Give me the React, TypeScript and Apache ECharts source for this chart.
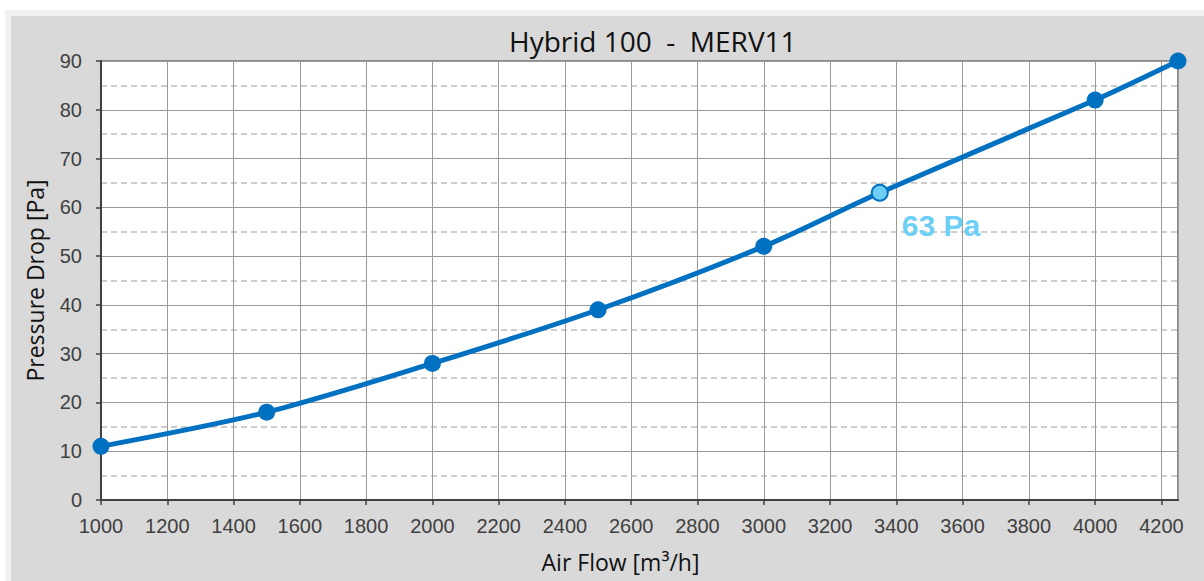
import React, { useEffect, useRef } from "react";
import * as echarts from "echarts";

const airFlow = [1000, 1500, 2000, 2500, 3000, 3350, 4000, 4250];
const pressure = [11, 18, 28, 39, 52, 63, 82, 90];
const highlightIndex = 5;
const highlightLabel = "63 Pa";
const titleText = "Hybrid 100  -  MERV11";
const xName = "Air Flow [m³/h]";
const yName = "Pressure Drop [Pa]";

export default function App() {
  const ref = useRef<HTMLDivElement>(null);
  useEffect(() => {
    if (!ref.current) return;
    const chart = echarts.init(ref.current, undefined, { renderer: "svg" });
    const data = airFlow.map((x, i) => {
      if (i === highlightIndex) {
        return {
          value: [x, pressure[i]],
          itemStyle: { color: "#6dcff6", borderColor: "#0070c0", borderWidth: 2 },
          symbolSize: 16,
          label: {
            show: true,
            formatter: highlightLabel,
            position: "right",
            distance: 13,
            offset: [0, 33],
            color: "#6dcff6",
            fontSize: 30,
            fontWeight: "bold",
            fontFamily: "Liberation Sans, Arial, sans-serif",
          },
        };
      }
      return { value: [x, pressure[i]] };
    });
    chart.setOption({
      animation: false,
      backgroundColor: "transparent",
      title: {
        text: titleText,
        left: 504,
        top: 22,
        textStyle: {
          fontFamily: "Open Sans, sans-serif",
          fontSize: 28,
          fontWeight: "normal",
          color: "#111",
        },
      },
      grid: {
        left: 101,
        top: 61,
        right: 26,
        bottom: 81,
        show: true,
        backgroundColor: "#ffffff",
        borderColor: "#8c8c8c",
        borderWidth: 2,
      },
      xAxis: {
        type: "value",
        min: 1000,
        max: 4250,
        interval: 200,
        name: xName,
        nameLocation: "middle",
        nameGap: 50,
        nameTextStyle: { fontFamily: "Open Sans, sans-serif", fontSize: 23, color: "#111", padding: [0, 38, 0, 0] },
        axisLine: { show: true, lineStyle: { color: "#404040", width: 2 } },
        axisTick: { show: true, length: 5, lineStyle: { color: "#404040", width: 1.5 } },
        axisLabel: {
          showMaxLabel: false,
          margin: 16,
          fontSize: 20,
          color: "#404040",
          fontFamily: "Liberation Sans, Arial, sans-serif",
          formatter: (v: number) => String(v),
        },
        splitLine: { show: true, lineStyle: { color: "#9a9a9a", width: 1 } },
      },
      yAxis: {
        type: "value",
        min: 0,
        max: 90,
        interval: 10,
        name: yName,
        nameLocation: "middle",
        nameGap: 55,
        nameTextStyle: { fontFamily: "Open Sans, sans-serif", fontSize: 23, color: "#111" },
        axisLine: { show: true, lineStyle: { color: "#404040", width: 2 } },
        axisTick: { show: true, length: 5, lineStyle: { color: "#404040", width: 1.5 } },
        axisLabel: {
          margin: 19,
          fontSize: 20,
          color: "#404040",
          fontFamily: "Liberation Sans, Arial, sans-serif",
          formatter: (v: number) => String(v),
        },
        splitLine: { show: true, lineStyle: { color: "#9a9a9a", width: 1 } },
        minorTick: { show: false, splitNumber: 2 },
        minorSplitLine: { show: true, lineStyle: { color: "#bdbdbd", width: 1.5, type: [6, 4] } },
      },
      series: [
        {
          type: "line",
          data,
          smooth: 0.3,
          symbol: "circle",
          symbolSize: 17,
          clip: false,
          lineStyle: { color: "#0070c0", width: 5 },
          itemStyle: { color: "#0070c0" },
        },
      ],
    });
    return () => chart.dispose();
  }, []);

  return (
    <div style={{ position: "absolute", left: 0, top: 0, width: 1204, height: 581, background: "#ffffff", overflow: "hidden" }}>
      <div style={{ position: "absolute", left: 5, top: 10, width: 1199, height: 571, background: "#f2f2f2" }} />
      <div style={{ position: "absolute", left: 11, top: 16, width: 1193, height: 565, background: "#d9d9d9" }} />
      <div ref={ref} style={{ position: "absolute", left: 0, top: 0, width: 1204, height: 581 }} />
    </div>
  );
}
